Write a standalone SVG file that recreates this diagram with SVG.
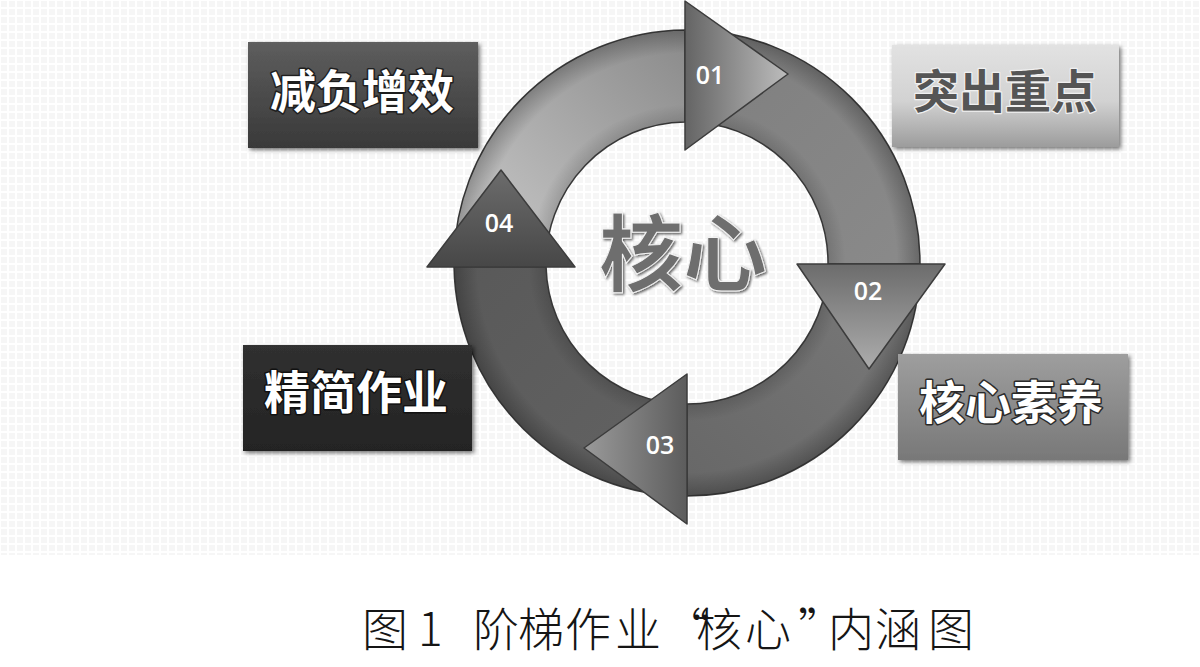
<svg xmlns="http://www.w3.org/2000/svg" width="1200" height="667" viewBox="0 0 1200 667">
<style>
.boxtxt{font-family:"Noto Sans CJK SC","Noto Sans",sans-serif;font-weight:700;font-size:46px;text-anchor:middle;paint-order:stroke;stroke-linejoin:round}
.num{font-family:"Open Sans","Noto Sans",sans-serif;font-weight:600;font-size:25px;fill:#ffffff;text-anchor:middle}
.cap{font-family:"Noto Sans CJK SC",sans-serif;font-weight:300;font-size:46px;fill:#151515}
.edge{stroke:#3c3c3c;stroke-width:1.5;stroke-linejoin:round}
</style>
<defs>
<pattern id="grid" width="8" height="8" patternUnits="userSpaceOnUse">
<rect width="8" height="8" fill="#ffffff"/>
<rect x="1" y="1" width="6" height="6" fill="#f6f6f6"/>
</pattern>
<linearGradient id="gb01" gradientUnits="userSpaceOnUse" x1="454" y1="267" x2="685" y2="30"><stop offset="0" stop-color="#cdcdcd"/><stop offset="1" stop-color="#8a8a8a"/></linearGradient>
<linearGradient id="gb02" gradientUnits="userSpaceOnUse" x1="685" y1="30" x2="920" y2="264"><stop offset="0" stop-color="#7e7e7e"/><stop offset="1" stop-color="#8a8a8a"/></linearGradient>
<linearGradient id="gb03" gradientUnits="userSpaceOnUse" x1="920" y1="264" x2="687" y2="496"><stop offset="0" stop-color="#7a7a7a"/><stop offset="1" stop-color="#676767"/></linearGradient>
<linearGradient id="gb04" gradientUnits="userSpaceOnUse" x1="687" y1="496" x2="454" y2="267"><stop offset="0" stop-color="#636363"/><stop offset="1" stop-color="#595959"/></linearGradient>
<linearGradient id="gh01" gradientUnits="userSpaceOnUse" x1="685" y1="75" x2="788" y2="75"><stop offset="0" stop-color="#646464"/><stop offset="1" stop-color="#bdbdbd"/></linearGradient>
<linearGradient id="gh02" gradientUnits="userSpaceOnUse" x1="869" y1="264" x2="869" y2="369"><stop offset="0" stop-color="#6c6c6c"/><stop offset="1" stop-color="#adadad"/></linearGradient>
<linearGradient id="gh03" gradientUnits="userSpaceOnUse" x1="687" y1="448" x2="584" y2="448"><stop offset="0" stop-color="#5c5c5c"/><stop offset="1" stop-color="#9a9a9a"/></linearGradient>
<linearGradient id="gh04" gradientUnits="userSpaceOnUse" x1="501" y1="267" x2="501" y2="170"><stop offset="0" stop-color="#474747"/><stop offset="1" stop-color="#6c6c6c"/></linearGradient>
<radialGradient id="ringShade" gradientUnits="userSpaceOnUse" cx="687" cy="263" r="233">
<stop offset="0.6" stop-color="#000" stop-opacity="0.15"/>
<stop offset="0.68" stop-color="#000" stop-opacity="0"/>
<stop offset="0.9" stop-color="#000" stop-opacity="0"/>
<stop offset="1" stop-color="#000" stop-opacity="0.25"/>
</radialGradient>
<linearGradient id="gbox1" x1="0" y1="0" x2="0" y2="1"><stop offset="0" stop-color="#5e5e5e"/><stop offset="1" stop-color="#393939"/></linearGradient>
<linearGradient id="gbox2" x1="0" y1="0" x2="0" y2="1"><stop offset="0" stop-color="#e2e2e2"/><stop offset="0.55" stop-color="#d2d2d2"/><stop offset="1" stop-color="#9c9c9c"/></linearGradient>
<linearGradient id="gbox3" x1="0" y1="0" x2="0" y2="1"><stop offset="0" stop-color="#303030"/><stop offset="1" stop-color="#242424"/></linearGradient>
<linearGradient id="gbox4" x1="0" y1="0" x2="0" y2="1"><stop offset="0" stop-color="#9e9e9e"/><stop offset="1" stop-color="#787878"/></linearGradient>
<filter id="shadow" x="-10%" y="-10%" width="125%" height="130%">
<feDropShadow dx="2" dy="2" stdDeviation="2" flood-color="#000" flood-opacity="0.55"/>
</filter>
<filter id="tshadow" x="-10%" y="-10%" width="125%" height="130%">
<feDropShadow dx="1.5" dy="1.5" stdDeviation="1.2" flood-color="#000" flood-opacity="0.6"/>
</filter>
</defs>

<rect width="1200" height="667" fill="#ffffff"/>
<rect width="1200" height="555" fill="url(#grid)"/>

<g id="connectors">
<g id="ring-bodies">
<path id="body01" class="edge" fill="url(#gb01)" d="M454.03,267 A233,233 0 0 1 685,30.01 L685,122.01 A141,141 0 0 0 546.06,267 Z"/>
<path id="body02" class="edge" fill="url(#gb02)" d="M685,30.01 A233,233 0 0 1 920,264 L828,264 A141,141 0 0 0 685,122.01 Z"/>
<path id="body03" class="edge" fill="url(#gb03)" d="M920,264 A233,233 0 0 1 687,496 L687,404 A141,141 0 0 0 828,264 Z"/>
<path id="body04" class="edge" fill="url(#gb04)" d="M687,496 A233,233 0 0 1 454.03,267 L546.06,267 A141,141 0 0 0 687,404 Z"/>
<path fill="url(#ringShade)" fill-rule="evenodd" d="M454,263 A233,233 0 1 1 920,263 A233,233 0 1 1 454,263 Z M546,263 A141,141 0 1 0 828,263 A141,141 0 1 0 546,263 Z"/>
</g>
<g id="arrow-heads">
<path id="head01" class="edge" fill="url(#gh01)" d="M685,1 L788,74 L685,150 Z"/>
<path id="head02" class="edge" fill="url(#gh02)" d="M797,264 L945,264 L869,369 Z"/>
<path id="head03" class="edge" fill="url(#gh03)" d="M687,374 L687,524 L584,448 Z"/>
<path id="head04" class="edge" fill="url(#gh04)" d="M427,267 L575,267 L501,170 Z"/>
</g>
<g id="step-labels">
<text class="num" x="710" y="84">01</text>
<text class="num" x="868" y="300">02</text>
<text class="num" x="660" y="454">03</text>
<text class="num" x="499" y="232">04</text>
</g>
</g>

<g id="core">
<text x="683" y="285" font-family="'Noto Sans CJK SC','Noto Sans',sans-serif" font-weight="700" font-size="84" text-anchor="middle" fill="#6e6e6e" stroke="#f4f4f4" stroke-width="1" filter="url(#tshadow)">核心</text>
</g>

<g id="node-jianfu">
<rect x="248" y="42" width="230" height="106" fill="url(#gbox1)" filter="url(#shadow)"/>
<text class="boxtxt" x="362" y="108" fill="#ffffff" stroke="#1e1e1e" stroke-width="3">减负增效</text>
</g>

<g id="node-tuchu">
<rect x="892" y="45" width="227" height="102" fill="url(#gbox2)" filter="url(#shadow)"/>
<text class="boxtxt" x="1005" y="108" fill="#555555" stroke="#f0f0f0" stroke-width="2.5">突出重点</text>
</g>

<g id="node-jingjian">
<rect x="243" y="345" width="229" height="106" fill="url(#gbox3)" filter="url(#shadow)"/>
<text class="boxtxt" x="356" y="409" fill="#ffffff" stroke="#111111" stroke-width="3">精简作业</text>
</g>

<g id="node-suyang">
<rect x="898" y="354" width="230" height="106" fill="url(#gbox4)" filter="url(#shadow)"/>
<text class="boxtxt" x="1011" y="419" fill="#ffffff" stroke="#2a2a2a" stroke-width="3">核心素养</text>
</g>

<g id="caption">
<text class="cap" y="646" x="362 418 473 518 565 615 664 696 745 798 828 875 928">图1阶梯作业“核心”内涵图</text>
</g>
</svg>
